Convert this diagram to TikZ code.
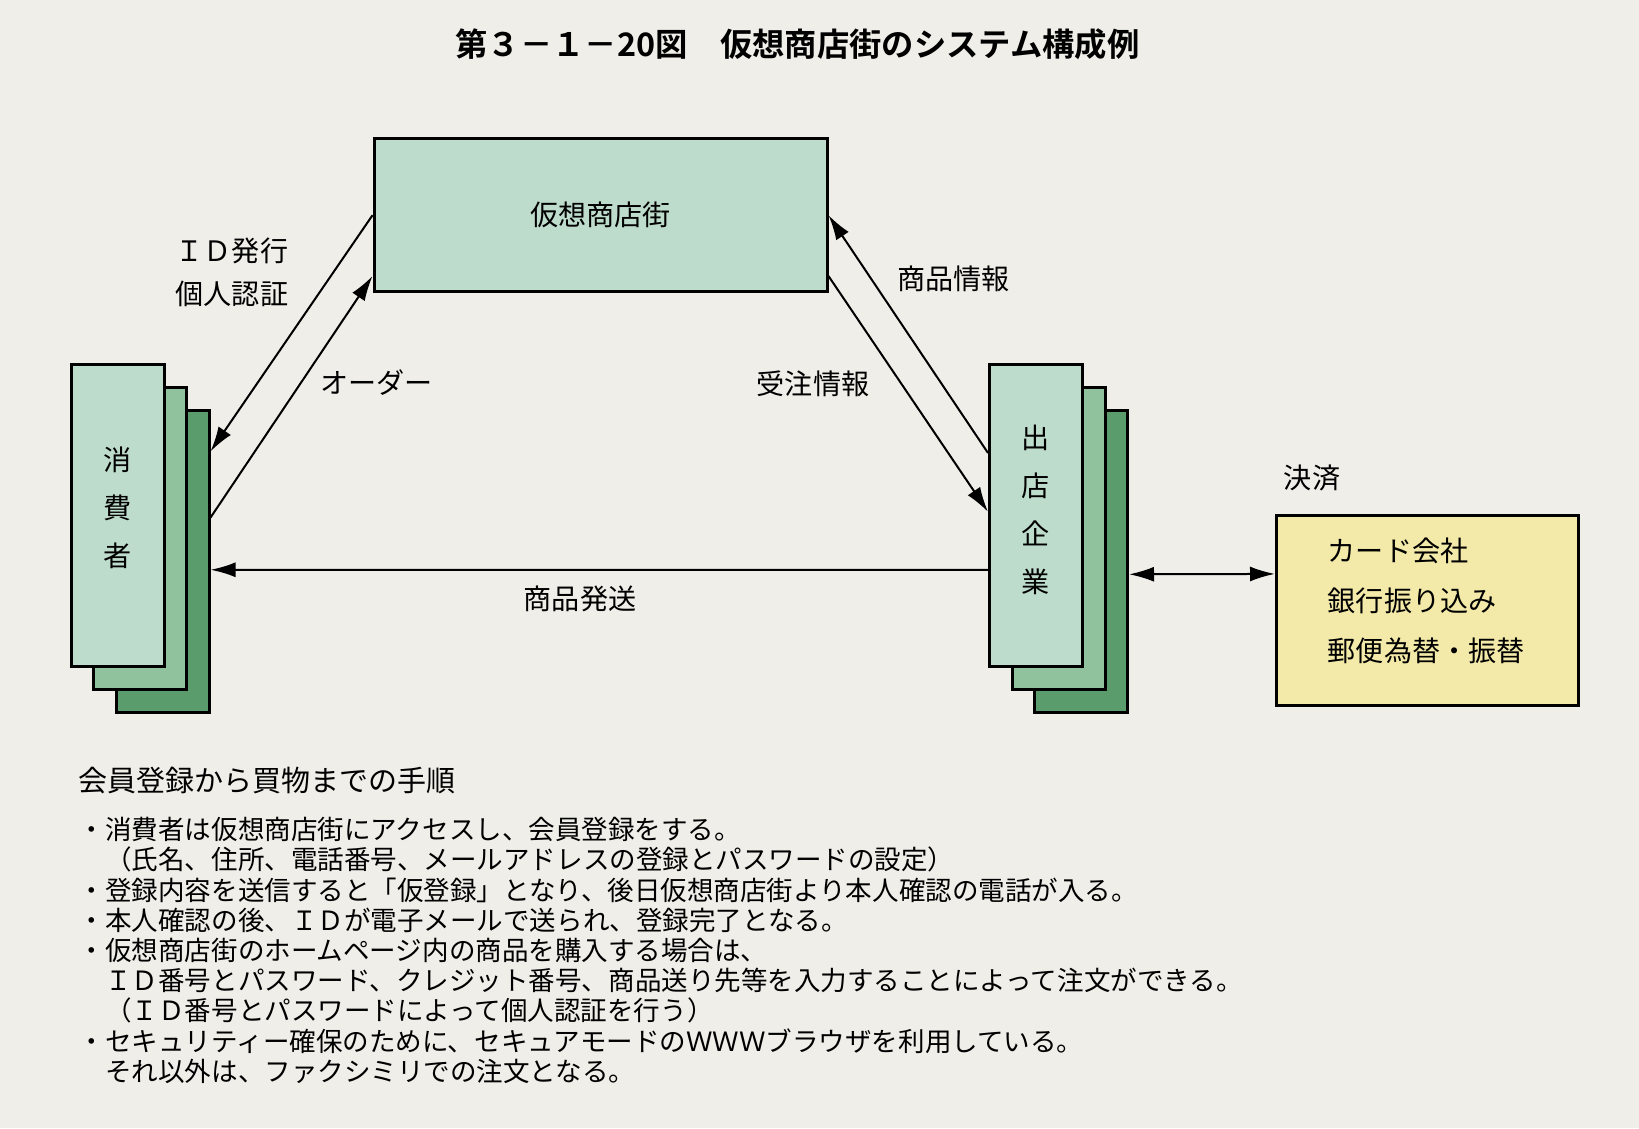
\documentclass[tikz,border=0pt]{standalone}
\usepackage{fontspec}
\setmainfont{Noto Sans CJK JP}[BoldFont={Noto Sans CJK JP Bold}]
\usepackage{tikz}
\usetikzlibrary{calc}
\usetikzlibrary{arrows.meta}
\usetikzlibrary{positioning}
\definecolor{bgcol}{HTML}{EFEEE8}
\definecolor{palegreen}{HTML}{BEDCCB}
\definecolor{midgreen}{HTML}{8FC29D}
\definecolor{darkgreen}{HTML}{5A9C6B}
\definecolor{cardyellow}{HTML}{F3E9A8}

\begin{document}
\begin{tikzpicture}[
  every node/.style={inner sep=0pt,font=\fontsize{16pt}{19pt}\selectfont},
  mallbox/.style={draw,line width=0.06cm,fill=palegreen,minimum width=9.06cm,minimum height=3.05cm},
  sheet/.style={draw,line width=0.06cm,minimum width=1.86cm,minimum height=6.04cm},
  cardbox/.style={draw,line width=0.06cm,fill=cardyellow,minimum width=6.04cm,minimum height=3.81cm},
  vtext/.style={align=center,font=\fontsize{16pt}{0.96cm}\selectfont},
  flow/.style={line width=0.04cm},
  >={Latex[length=0.5cm,width=0.3cm]}
]
  % background
  \fill[bgcol] (0,0) rectangle (32.78,22.56);

  \node[font=\bfseries\fontsize{18.4pt}{22pt}\selectfont] (title) at (15.95,21.68)
    {第３－１－20図　仮想商店街のシステム構成例};

  \node[mallbox] (mall) at (12.01,18.255) {仮想商店街};

  % consumer stack
  \node[sheet,fill=darkgreen] (cback)  at (3.25,11.323) {};
  \node[sheet,fill=midgreen]  (cmid)   at (2.80,11.78)  {};
  \node[sheet,fill=palegreen] (cfront) at (2.35,12.243) {};
  \node[vtext] (ctext) at (2.35,12.41) {消\\費\\者};

  % shop stack
  \node[sheet,fill=darkgreen] (sback)  at (21.62,11.33) {};
  \node[sheet,fill=midgreen]  (smid)   at (21.17,11.79) {};
  \node[sheet,fill=palegreen] (sfront) at (20.72,12.25) {};
  \node[vtext] (stext) at (20.72,12.37) {出\\店\\企\\業};

  % payment
  \node[cardbox] (pay) at (28.55,10.35) {};
  \node[anchor=west,align=left,font=\fontsize{16pt}{1cm}\selectfont] (paytext) at (26.55,10.55)
    {カード会社\\銀行振り込み\\郵便為替・振替};

  \coordinate (c1) at ($(cback.north east)!0.138!(cback.south east)$);
  \coordinate (c2) at ($(cback.north east)!0.355!(cback.south east)$);
  \coordinate (c3) at ($(cback.north east)!0.526!(cback.south east)$);
  \coordinate (m1) at ($(mall.north west)!0.891!(mall.south west)$);
  \coordinate (m2) at ($(mall.north east)!0.891!(mall.south east)$);
  \coordinate (s1) at ($(sfront.north west)!0.295!(sfront.south west)$);
  \coordinate (s2) at ($(sfront.north west)!0.488!(sfront.south west)$);
  \coordinate (s3) at ($(sfront.north west)!0.678!(sfront.south west)$);
  \coordinate (s4) at ($(sback.north east)!0.542!(sback.south east)$);
  \coordinate (p1) at ($(pay.north west)!0.311!(pay.south west)$);

  \draw[flow,->] (mall.west) -- (c1);
  \draw[flow,->] (c2) -- (m1);
  \draw[flow,->] (s1) -- (mall.east);
  \draw[flow,->] (m2) -- (s2);
  \draw[flow,->] (s3) -- (c3);
  \draw[flow,<->] (s4) -- (p1);

  % labels
  \node[anchor=east,align=right,font=\fontsize{16pt}{0.86cm}\selectfont] (idlbl) at (5.77,17.11)
    {ＩＤ発行\\個人認証};
  \node (orderlbl) at (7.53,14.91) {オーダー};
  \node (recvlbl)  at (16.26,14.89) {受注情報};
  \node (infolbl)  at (19.07,16.98) {商品情報};
  \node (shiplbl)  at (11.60,10.58) {商品発送};
  \node (paylbl)   at (26.24,13.0)  {決済};

  % procedure text
  \node[anchor=west,font=\fontsize{16.5pt}{20pt}\selectfont] (steps) at (1.57,6.95)
    {会員登録から買物までの手順};
  \node[anchor=north west,align=left,font=\fontsize{15.1pt}{0.604cm}\selectfont] (steplist) at (1.57,6.22)
    {・消費者は仮想商店街にアクセスし、会員登録をする。\\
     　（氏名、住所、電話番号、メールアドレスの登録とパスワードの設定）\\
     ・登録内容を送信すると「仮登録」となり、後日仮想商店街より本人確認の電話が入る。\\
     ・本人確認の後、ＩＤが電子メールで送られ、登録完了となる。\\
     ・仮想商店街のホームページ内の商品を購入する場合は、\\
     　ＩＤ番号とパスワード、クレジット番号、商品送り先等を入力することによって注文ができる。\\
     　（ＩＤ番号とパスワードによって個人認証を行う）\\
     ・セキュリティー確保のために、セキュアモードのＷＷＷブラウザを利用している。\\
     　それ以外は、ファクシミリでの注文となる。};
\end{tikzpicture}
\end{document}
